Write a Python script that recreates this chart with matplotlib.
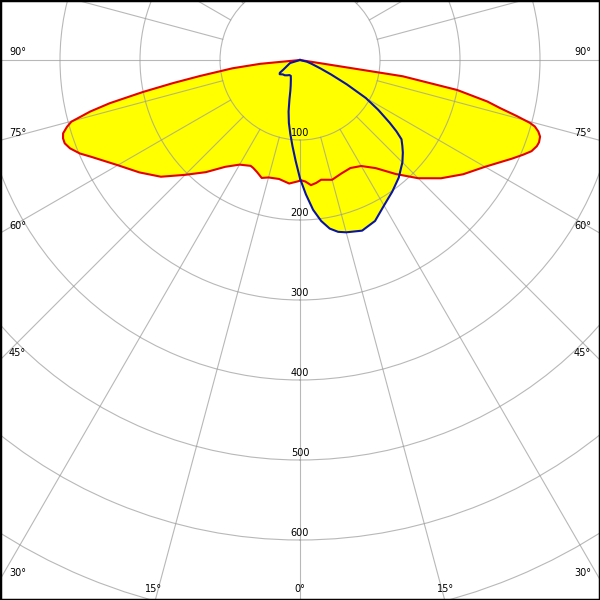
import numpy as np
import matplotlib
matplotlib.use('Agg')
import matplotlib.pyplot as plt
from matplotlib.patches import Rectangle

# C0 / C180 plane (red), gamma in degrees, intensity in cd
c0_gamma = [0, 2.5, 5, 7.5, 10, 15, 20, 25, 30, 35, 40, 45, 50, 55, 60, 65, 67, 68.5, 70, 71,
            72.3, 73.3, 74.2, 74.7, 75.5, 76.5, 77.5, 79.2, 81, 90]
c0_int = [150, 152, 157, 155, 152, 155, 151, 149, 153, 165, 186, 209, 230, 249, 267, 292, 303, 311, 315, 316,
          315, 311, 305, 298, 280, 257, 240, 200, 130, 0]
c180_gamma = [0, 5, 10, 15, 18, 21, 23.5, 25, 30, 35, 40, 45, 50, 55, 60, 65, 67, 69, 70.5, 71.7,
              72.8, 74, 74.9, 76.2, 77.2, 78.5, 79.7, 80.9, 83, 84.5, 90]
c180_int = [151, 155, 151, 152, 155, 150, 147, 146, 151, 163, 183, 203, 227, 245, 263, 287, 299, 308, 312, 312,
            310, 303, 296, 270, 244, 200, 161, 127, 85, 50, 0]

# C90 / C270 plane (blue)
c90_gamma = [0, 2.5, 5, 7.5, 10, 12.5, 15, 20, 25, 30, 35, 40, 45, 48, 50, 52, 53.5, 55, 57.5, 60, 62.5,
             65, 67.5, 72, 76, 90]
c90_int = [148, 168, 188, 203, 214, 220, 223, 227, 222, 210, 201, 192, 181, 173, 167, 161, 150, 137, 116, 95, 66,
           43, 28, 15, 9, 0]
c270_gamma = [0, 2.5, 5, 7.5, 10, 12.5, 15, 17.5, 20, 25, 30, 35, 40, 45, 50, 55, 57.5, 60, 65, 73, 90]
c270_int = [148, 126, 108, 93, 80, 66, 51, 40, 34, 27, 23, 23, 25, 27, 28, 31, 30, 24, 18, 13, 0]

rings = [100, 200, 300, 400, 500, 600, 700]
ring_labels = ['100', '200', '300', '400', '500', '600']

# angle labels: (text, x px, y px of text bottom, ha)
angle_labels = [('90°', 9, 57, 'left'), ('75°', 9, 138, 'left'), ('60°', 9, 231, 'left'),
                ('45°', 9, 358, 'left'), ('30°', 9, 578, 'left'),
                ('90°', 591, 57, 'right'), ('75°', 591, 138, 'right'), ('60°', 591, 231, 'right'),
                ('45°', 591, 358, 'right'), ('30°', 591, 578, 'right'),
                ('15°', 154, 594, 'center'), ('0°', 300, 594, 'center'), ('15°', 446, 594, 'center')]


def half_planes(g_left, i_left, g_right, i_right):
    th = np.concatenate([-np.radians(g_left[::-1]), np.radians(g_right)])
    r = np.concatenate([i_left[::-1], i_right])
    return th, r


red_th, red_r = half_planes(c180_gamma, c180_int, c0_gamma, c0_int)
blue_th, blue_r = half_planes(c270_gamma, c270_int, c90_gamma, c90_int)

W = 600
R = 800
scale = 0.8  # px per cd
cx, cy = 300, 60
fig = plt.figure(figsize=(6, 6), dpi=100)
rad = R * scale
ax = fig.add_axes([(cx - rad) / W, (W - cy - rad) / W, 2 * rad / W, 2 * rad / W], projection='polar')
ax.set_theta_zero_location('S')
ax.set_theta_direction(1)
ax.set_rlim(0, R)
ax.spines['polar'].set_visible(False)
ax.set_axisbelow(False)

grid_col = '#9a9a9a'
ax.set_rgrids(rings, labels=[''] * len(rings))
ax.set_thetagrids([])
ax.yaxis.grid(True, color=grid_col, lw=0.8, alpha=0.7)
ax.xaxis.grid(False)
ax.tick_params(labelleft=False, labelbottom=False)

for a in range(0, 360, 15):
    t = np.radians(a)
    ax.plot([t, t], [100, R], color=grid_col, lw=0.8, alpha=0.7, zorder=2.5)

ax.fill(red_th, red_r, color='#ffff00', zorder=1, lw=0)
ax.fill(blue_th, blue_r, color='#ffff00', zorder=1, lw=0)
ax.plot(red_th, red_r, color='#e60000', lw=1.5, zorder=3)
ax.plot(blue_th, blue_r, color='#0a14a0', lw=1.5, zorder=3)

for v in ring_labels:
    ax.annotate(v, xy=(0, int(v)), xytext=(0, 1.5), textcoords='offset points',
                ha='center', va='bottom', fontsize=7, color='black', zorder=4)

for txt, x, y, ha in angle_labels:
    fig.text(x / W, 1 - y / W, txt, ha=ha, va='bottom', fontsize=7, color='black')

fig.patches.append(Rectangle((0, 0), 1, 1, transform=fig.transFigure, fill=False,
                             edgecolor='black', lw=2.5))

fig.savefig('out.png', dpi=100)
